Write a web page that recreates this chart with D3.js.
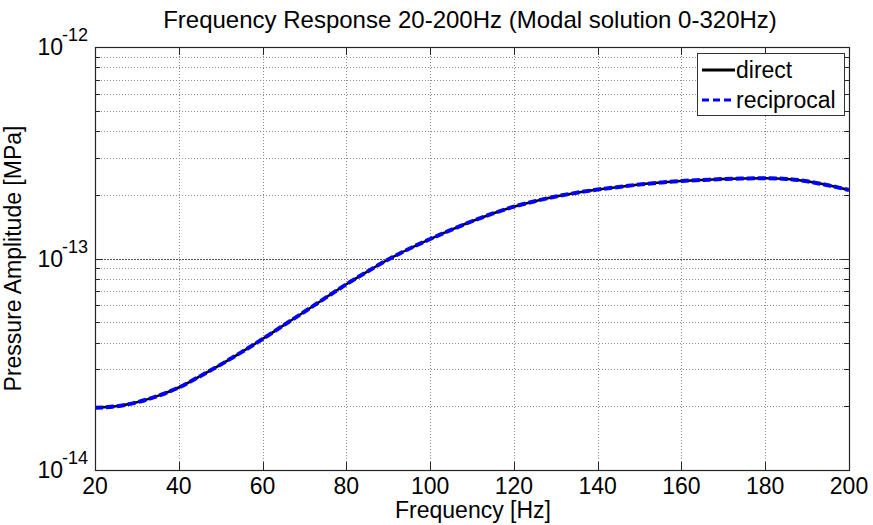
<!DOCTYPE html>
<html>
<head>
<meta charset="utf-8">
<script src="https://cdn.jsdelivr.net/npm/d3@7"></script>
<style>
  html, body { margin: 0; padding: 0; background: #fff; }
  svg { display: block; font-family: "Liberation Sans", Arial, sans-serif; }
</style>
</head>
<body>
<svg id="chart" width="873" height="525"></svg>
<script>
// ---- data ----
const freq = [20,25,30,35,40,45,50,55,60,65,70,75,80,85,90,95,100,105,110,115,120,125,130,135,140,145,150,155,160,165,170,175,180,185,190,195,200];
// pressure amplitude in units of 1e-14 MPa
const directScaled = [1.97,2.00,2.09,2.24,2.455,2.77,3.15,3.61,4.16,4.83,5.60,6.51,7.55,8.67,9.89,11.12,12.36,13.65,15.00,16.33,17.58,18.66,19.63,20.46,21.18,21.78,22.38,22.85,23.25,23.51,23.76,23.89,23.94,23.79,23.17,22.19,21.08];
const reciprocalScaled = [1.97,2.00,2.09,2.24,2.455,2.77,3.15,3.61,4.16,4.83,5.60,6.51,7.55,8.67,9.89,11.12,12.36,13.65,15.00,16.33,17.58,18.66,19.63,20.46,21.18,21.78,22.38,22.85,23.25,23.51,23.76,23.89,23.94,23.79,23.17,22.19,21.08];
const direct = directScaled.map(v => v * 1e-14);
const reciprocal = reciprocalScaled.map(v => v * 1e-14);
const xTicks = [20,40,60,80,100,120,140,160,180,200];
const yMajor = [1e-14, 1e-13, 1e-12];
const yMajorExp = ["-14", "-13", "-12"];
const seriesNames = ["direct", "reciprocal"];
const titleText = "Frequency Response 20-200Hz (Modal solution 0-320Hz)";
const xLabel = "Frequency [Hz]";
const yLabel = "Pressure Amplitude [MPa]";

// ---- layout ----
const L = 95, R = 849, T = 47, B = 470;
const svg = d3.select("#chart");
const x = d3.scaleLinear().domain([20, 200]).range([L, R]);
const y = d3.scaleLog().domain([1e-14, 1e-12]).range([B, T]);

const yMinor = [];
[1e-14, 1e-13].forEach(d => { for (let k = 2; k <= 9; k++) yMinor.push(d * k); });

const axisColor = "#262626";
const g = svg.append("g");

// grid
g.selectAll(".vgrid").data(xTicks.filter(t => t > 20 && t < 200)).enter().append("line")
  .attr("x1", d => Math.round(x(d)) + 0.5).attr("x2", d => Math.round(x(d)) + 0.5)
  .attr("y1", T).attr("y2", B)
  .attr("stroke", "#8a8a8a").attr("stroke-width", 1).attr("stroke-dasharray", "1,2");
g.selectAll(".hgridm").data(yMinor).enter().append("line")
  .attr("x1", L).attr("x2", R)
  .attr("y1", d => Math.round(y(d)) + 0.5).attr("y2", d => Math.round(y(d)) + 0.5)
  .attr("stroke", "#8a8a8a").attr("stroke-width", 1).attr("stroke-dasharray", "1,2");
g.append("line")
  .attr("x1", L).attr("x2", R)
  .attr("y1", Math.round(y(1e-13)) + 0.5).attr("y2", Math.round(y(1e-13)) + 0.5)
  .attr("stroke", "#555").attr("stroke-width", 1).attr("stroke-dasharray", "2,1");

// ticks (inward), bottom/top
const majLen = 8, minLen = 5;
xTicks.forEach(t => {
  const xx = Math.round(x(t)) + 0.5;
  g.append("line").attr("x1", xx).attr("x2", xx).attr("y1", B).attr("y2", B - majLen).attr("stroke", axisColor);
  g.append("line").attr("x1", xx).attr("x2", xx).attr("y1", T).attr("y2", T + majLen).attr("stroke", axisColor);
});
yMajor.forEach(t => {
  const yy = Math.round(y(t)) + 0.5;
  g.append("line").attr("x1", L).attr("x2", L + majLen).attr("y1", yy).attr("y2", yy).attr("stroke", axisColor);
  g.append("line").attr("x1", R).attr("x2", R - majLen).attr("y1", yy).attr("y2", yy).attr("stroke", axisColor);
});
yMinor.forEach(t => {
  const yy = Math.round(y(t)) + 0.5;
  g.append("line").attr("x1", L).attr("x2", L + minLen).attr("y1", yy).attr("y2", yy).attr("stroke", axisColor);
  g.append("line").attr("x1", R).attr("x2", R - minLen).attr("y1", yy).attr("y2", yy).attr("stroke", axisColor);
});

// lines
const line = d3.line().x((d, i) => x(freq[i])).y(d => y(d)).curve(d3.curveMonotoneX);
g.append("path").datum(direct).attr("d", line)
  .attr("fill", "none").attr("stroke", "#000").attr("stroke-width", 2.5);
g.append("path").datum(reciprocal).attr("d", line)
  .attr("fill", "none").attr("stroke", "#0000ff").attr("stroke-width", 4)
  .attr("stroke-dasharray", "8,3");

// axes box
g.append("rect").attr("x", L + 0.5).attr("y", T + 0.5).attr("width", R - L).attr("height", B - T)
  .attr("fill", "none").attr("stroke", axisColor).attr("stroke-width", 1.2);

// x tick labels
g.selectAll(".xl").data(xTicks).enter().append("text")
  .attr("x", d => x(d)).attr("y", B + 24)
  .attr("text-anchor", "middle").attr("font-size", 23).attr("fill", "#000")
  .text(d => d);

// y tick labels: 10^exp
yMajor.forEach((t, i) => {
  const yy = y(t);
  g.append("text").attr("x", 63).attr("y", yy + 8).attr("text-anchor", "end")
    .attr("font-size", 23).attr("fill", "#000").text("10");
  g.append("text").attr("x", 62).attr("y", yy - 6).attr("text-anchor", "start")
    .attr("font-size", 18).attr("fill", "#000").text(yMajorExp[i]);
});

// title and axis labels
svg.append("text").attr("x", (L + R) / 2 - 2).attr("y", 28).attr("text-anchor", "middle")
  .attr("font-size", 24).attr("fill", "#000").text(titleText);
svg.append("text").attr("x", (L + R) / 2 + 1).attr("y", 518).attr("text-anchor", "middle")
  .attr("font-size", 23).attr("fill", "#000").text(xLabel);
svg.append("text").attr("transform", `translate(21,${(T + B) / 2}) rotate(-90)`)
  .attr("text-anchor", "middle").attr("font-size", 23).attr("fill", "#000").text(yLabel);

// legend
const lg = svg.append("g");
lg.append("rect").attr("x", 697.5).attr("y", 53.5).attr("width", 147).attr("height", 62)
  .attr("fill", "#fff").attr("stroke", "#333").attr("stroke-width", 1);
const legendStyles = [
  { color: "#000", width: 3, dash: null },
  { color: "#0000ff", width: 3, dash: "7,4" }
];
seriesNames.forEach((name, i) => {
  const yy = 70 + i * 30;
  const st = legendStyles[i];
  const l = lg.append("line").attr("x1", 702).attr("x2", 735).attr("y1", yy).attr("y2", yy)
    .attr("stroke", st.color).attr("stroke-width", st.width);
  if (st.dash) l.attr("stroke-dasharray", st.dash);
  lg.append("text").attr("x", 736).attr("y", yy + 7.5).attr("font-size", 23).attr("fill", "#000").text(name);
});
</script>
</body>
</html>
